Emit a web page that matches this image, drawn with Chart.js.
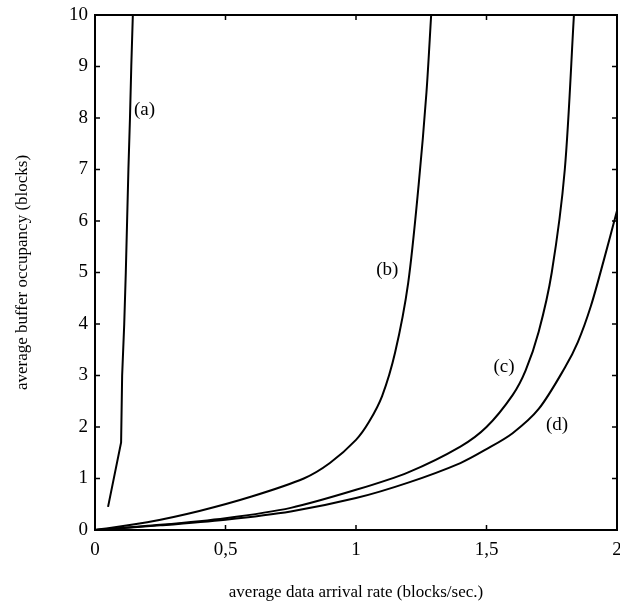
<!DOCTYPE html>
<html>
<head>
<meta charset="utf-8">
<script src="https://cdn.jsdelivr.net/npm/chart.js@4/dist/chart.umd.min.js"></script>
<style>
  html, body { margin: 0; padding: 0; background: #fff; }
</style>
</head>
<body>
<canvas id="myChart" width="620" height="605"></canvas>
<script>
"use strict";
// values
const xTickLabels = ['0', '0,5', '1', '1,5', '2'];
const yTickLabels = ['0', '1', '2', '3', '4', '5', '6', '7', '8', '9', '10'];

const aX = [0.05, 0.1, 0.104, 0.112, 0.118, 0.123, 0.128, 0.134, 0.139, 0.145];
const aY = [0.45, 1.7, 3, 4, 5, 6, 7, 8, 9, 10];

const bX = [0, 0.2, 0.4, 0.6, 0.8, 0.9, 1.0, 1.05, 1.1, 1.15, 1.2, 1.24, 1.27, 1.288];
const bY = [0, 0.15, 0.37, 0.65, 1.0, 1.3, 1.75, 2.1, 2.6, 3.45, 4.8, 6.7, 8.5, 10];

const cX = [0, 0.25, 0.5, 0.75, 1.0, 1.2, 1.4, 1.5, 1.6, 1.65, 1.7, 1.75, 1.8, 1.835];
const cY = [0, 0.1, 0.23, 0.43, 0.78, 1.12, 1.62, 2.0, 2.62, 3.1, 3.85, 5.0, 7.0, 10];

const dX = [0, 0.25, 0.5, 0.75, 1.0, 1.2, 1.4, 1.5, 1.6, 1.7, 1.8, 1.85, 1.9, 1.95, 2.0];
const dY = [0, 0.09, 0.2, 0.36, 0.62, 0.92, 1.3, 1.57, 1.88, 2.35, 3.15, 3.65, 4.35, 5.25, 6.2];

const curveNames = ['(a)', '(b)', '(c)', '(d)'];
const nameX = [0.19, 1.12, 1.567, 1.77];
const nameY = [8.15, 5.05, 3.17, 2.04];

const serif = "'Liberation Serif', 'Times New Roman', serif";
Chart.defaults.font.family = serif;
Chart.defaults.color = '#000';

function pts(xs, ys) {
    return xs.map(function(x, i) { return {x: x, y: ys[i]}; });
}

function line(label, xs, ys, smooth) {
    return {
        label: label,
        data: pts(xs, ys),
        borderColor: '#000',
        borderWidth: 2,
        pointRadius: 0,
        fill: false,
        tension: smooth ? 0.3 : 0
    };
}

// frame, inward ticks and curve names
const framePlugin = {
    id: 'framePlugin',
    afterDatasetsDraw(chart) {
        const c = chart.ctx;
        const a = chart.chartArea;
        const xs = chart.scales.x, ys = chart.scales.y;
        c.save();
        c.strokeStyle = '#000';
        c.lineWidth = 2;
        c.strokeRect(a.left, a.top, a.right - a.left, a.bottom - a.top);
        c.lineWidth = 1.5;
        c.beginPath();
        xs.ticks.forEach(function(t) {
            const px = xs.getPixelForValue(t.value);
            c.moveTo(px, a.bottom); c.lineTo(px, a.bottom - 5);
            c.moveTo(px, a.top); c.lineTo(px, a.top + 5);
        });
        ys.ticks.forEach(function(t) {
            const py = ys.getPixelForValue(t.value);
            c.moveTo(a.left, py); c.lineTo(a.left + 5, py);
            c.moveTo(a.right, py); c.lineTo(a.right - 5, py);
        });
        c.stroke();
        c.font = '19px ' + serif;
        c.fillStyle = '#000';
        c.textAlign = 'center';
        c.textBaseline = 'middle';
        curveNames.forEach(function(n, i) {
            c.fillText(n, xs.getPixelForValue(nameX[i]), ys.getPixelForValue(nameY[i]));
        });
        c.restore();
    }
};

const ctx = document.getElementById('myChart');
var myChart = new Chart(ctx, {
    type: 'line',
    data: {
        datasets: [
            line('(a)', aX, aY, false),
            line('(b)', bX, bY, true),
            line('(c)', cX, cY, true),
            line('(d)', dX, dY, true)
        ]
    },
    options: {
        responsive: false,
        animation: false,
        layout: { padding: { top: 15, right: 3, left: 0, bottom: 0 } },
        plugins: {
            legend: { display: false },
            tooltip: { enabled: false }
        },
        scales: {
            x: {
                type: 'linear',
                min: 0,
                max: 2,
                grid: { display: false, drawTicks: false },
                border: { display: false },
                ticks: {
                    stepSize: 0.5,
                    padding: 9,
                    font: { size: 19 },
                    maxRotation: 0,
                    callback: function(v) { return xTickLabels[Math.round(v * 2)]; }
                },
                title: {
                    display: true,
                    text: 'average data arrival rate (blocks/sec.)',
                    font: { size: 17 },
                    padding: { top: 0, bottom: 2 }
                },
                afterFit: function(s) { s.height = 75; s.paddingLeft = 0; s.paddingRight = 0; }
            },
            y: {
                type: 'linear',
                min: 0,
                max: 10,
                grid: { display: false, drawTicks: false },
                border: { display: false },
                ticks: {
                    stepSize: 1,
                    padding: 7,
                    font: { size: 19 },
                    callback: function(v) { return yTickLabels[v]; }
                },
                title: {
                    display: true,
                    text: 'average buffer occupancy (blocks)',
                    font: { size: 17 },
                    padding: { top: 12, bottom: 0 }
                },
                afterFit: function(s) { s.width = 95; s.paddingTop = 0; s.paddingBottom = 0; }
            }
        }
    },
    plugins: [framePlugin]
});
</script>
</body>
</html>
